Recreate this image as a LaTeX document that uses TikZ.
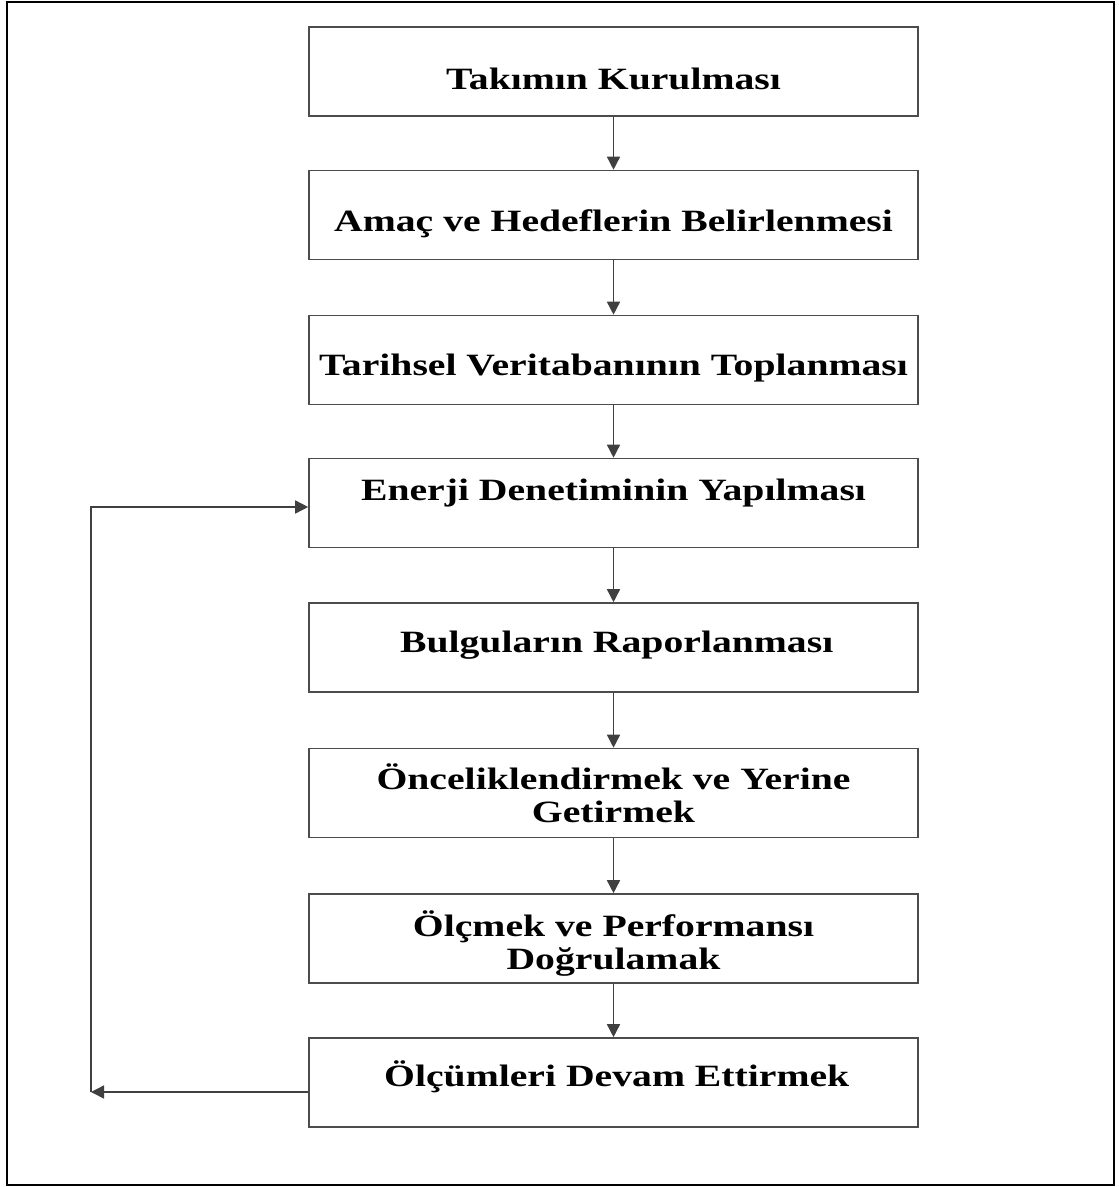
\documentclass[tikz,border=0pt]{standalone}
\usepackage{fontspec}
\setmainfont{Liberation Serif}
\usetikzlibrary{arrows.meta}
\tikzset{
  stepbox/.style={draw=black!70, line width=1.6pt, minimum width=609pt, minimum height=89pt, inner sep=0pt, font=\bfseries\fontsize{31}{33}\selectfont},
  arr/.style={draw=black!75, line width=1.5pt, -{Triangle[length=13pt,width=13pt]}},
  frame/.style={draw=black, line width=2pt}
}
\newcommand{\wide}[1]{\scalebox{1.28}[1]{#1}}
% raise (baseline relative to box centre), text
\newcommand{\tl}[2]{\raisebox{#1}[0pt][0pt]{\makebox[0pt]{\wide{#2}}}}
\begin{document}
\begin{tikzpicture}[x=1pt,y=-1pt]
\useasboundingbox (0,0) rectangle (1119,1187);
\draw[frame] (7,2) rectangle (1114,1185);
\node[stepbox] (b1) at (613.5,71.5) {\tl{-18pt}{Takımın Kurulması}};
\node[stepbox] (b2) at (613.5,215) {\tl{-16pt}{Amaç ve Hedeflerin Belirlenmesi}};
\node[stepbox] (b3) at (613.5,360) {\tl{-15pt}{Tarihsel Veritabanının Toplanması}};
\node[stepbox] (b4) at (613.5,503) {\tl{2.5pt}{Enerji Denetiminin Yapılması}};
\node[stepbox] (b5) at (613.5,647.5) {\tl{-4.5pt}{\hspace{5pt}Bulguların Raporlanması}};
\node[stepbox] (b6) at (613.5,793) {\tl{4pt}{Önceliklendirmek ve Yerine}\tl{-29.5pt}{Getirmek}};
\node[stepbox] (b7) at (613.5,938.5) {\tl{2pt}{Ölçmek ve Performansı}\tl{-30.5pt}{Doğrulamak}};
\node[stepbox] (b8) at (613.5,1082.5) {\tl{-4pt}{\hspace{5pt}Ölçümleri Devam Ettirmek}};
\draw[arr] (b1) -- (b2);
\draw[arr] (b2) -- (b3);
\draw[arr] (b3) -- (b4);
\draw[arr] (b4) -- (b5);
\draw[arr] (b5) -- (b6);
\draw[arr] (b6) -- (b7);
\draw[arr] (b7) -- (b8);
\coordinate (fbL) at (91,1092);
\coordinate (fbT) at (91,507);
\draw[arr] ([yshift=-9.5pt]b8.west) -- (fbL);
\draw[arr] (fbL) -- (fbT) -- ([yshift=-4pt]b4.west);
\end{tikzpicture}
\end{document}
